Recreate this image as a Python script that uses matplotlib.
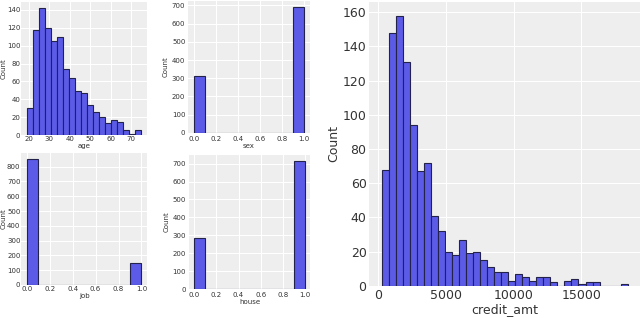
import matplotlib.pyplot as plt
import numpy as np

# histogram counts
age_edges = np.linspace(19, 75, 20)
age_counts = [30, 118, 142, 120, 105, 110, 74, 64, 49, 47, 34, 26, 20, 14, 17, 15, 6, 1, 6]

binary_edges = np.linspace(0, 1, 11)
sex_counts = [310, 0, 0, 0, 0, 0, 0, 0, 0, 690]
job_counts = [850, 0, 0, 0, 0, 0, 0, 0, 0, 150]
house_counts = [287, 0, 0, 0, 0, 0, 0, 0, 0, 713]

credit_edges = np.linspace(250, 18424, 36)
credit_counts = [68, 148, 158, 131, 94, 67, 72, 41, 32, 20, 18, 27, 19, 20, 15,
                 11, 8, 8, 3, 7, 5, 3, 5, 5, 2, 0, 3, 4, 1, 2, 2, 0, 0, 0, 1]

bar_color = "#5b5be8"
edge_color = "#22224a"
bg = "#eeeeee"


def draw_hist(ax, edges, counts, xlabel, fs, yticks, ylim, xticks=None, lw=0.8, pad=2):
    edges = np.asarray(edges)
    ax.set_facecolor(bg)
    ax.bar(edges[:-1], counts, width=np.diff(edges), align="edge",
           color=bar_color, edgecolor=edge_color, linewidth=lw, zorder=3)
    ax.grid(True, color="white", linewidth=0.8, zorder=0)
    for s in ax.spines.values():
        s.set_visible(False)
    ax.set_yticks(yticks)
    ax.set_ylim(*ylim)
    if xticks is not None:
        ax.set_xticks(xticks)
    ax.tick_params(labelsize=fs, length=0, pad=pad, colors="#333333")
    ax.set_xlabel(xlabel, fontsize=fs, color="#333333", labelpad=1)
    ax.set_ylabel("Count", fontsize=fs, color="#333333", labelpad=pad)


fig = plt.figure(figsize=(6.4, 3.18), dpi=100)

ax_age = fig.add_axes([0.033, 0.575, 0.197, 0.419])
draw_hist(ax_age, age_edges, age_counts, "age", 5, np.arange(0, 141, 20), (0, 149),
          xticks=[20, 30, 40, 50, 60, 70], pad=0.5)

ax_sex = fig.add_axes([0.294, 0.582, 0.19, 0.415])
draw_hist(ax_sex, binary_edges, sex_counts, "sex", 5, np.arange(0, 701, 100), (0, 724),
          xticks=np.linspace(0, 1, 6))

ax_job = fig.add_axes([0.033, 0.104, 0.197, 0.415])
draw_hist(ax_job, binary_edges, job_counts, "job", 5, np.arange(0, 801, 100), (0, 893),
          xticks=np.linspace(0, 1, 6), pad=0.5)

ax_house = fig.add_axes([0.295, 0.091, 0.19, 0.422])
draw_hist(ax_house, binary_edges, house_counts, "house", 5, np.arange(0, 701, 100), (0, 749),
          xticks=np.linspace(0, 1, 6))

for ax in (ax_sex, ax_job, ax_house):
    ax.set_xlim(-0.05, 1.05)
    ax.set_xticklabels(["0.0", "0.2", "0.4", "0.6", "0.8", "1.0"])

ax_credit = fig.add_axes([0.577, 0.101, 0.423, 0.893])
draw_hist(ax_credit, credit_edges, credit_counts, "credit_amt", 9, np.arange(0, 161, 20), (0, 166),
          xticks=[0, 5000, 10000, 15000])

fig.savefig("out.png", dpi=100)
